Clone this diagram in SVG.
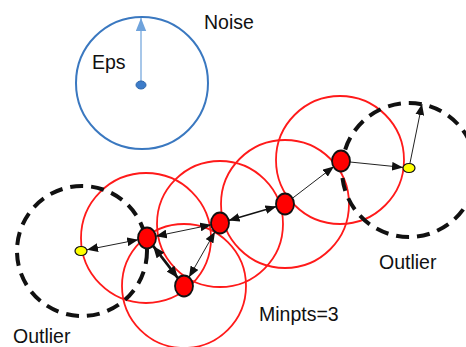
<svg xmlns="http://www.w3.org/2000/svg" width="466" height="347" viewBox="0 0 466 347">
<style>
.lbl{font-family:"Liberation Sans",Arial,sans-serif;font-size:19.5px;fill:#111}
.rc{fill:none;stroke:#ff1a1a;stroke-width:1.8}
.dc{fill:none;stroke:#111;stroke-width:4;stroke-dasharray:13 8}
.core{fill:#ff0000;stroke:#111;stroke-width:1.8}
.out{fill:#ffff00;stroke:#111;stroke-width:1.2}
.ln{stroke:#222;stroke-width:1;fill:none}
.lnb{stroke:#111;stroke-width:2.6;fill:none}
</style>
<defs>
<marker id="ah" viewBox="0 0 10 8" refX="10" refY="4" markerWidth="11" markerHeight="9" markerUnits="userSpaceOnUse" orient="auto-start-reverse">
<path d="M0,0 L10,4 L0,8 Z" fill="#111"/>
</marker>
<marker id="ahb" viewBox="0 0 10 8" refX="10" refY="4" markerWidth="12" markerHeight="10" markerUnits="userSpaceOnUse" orient="auto-start-reverse">
<path d="M0,0 L10,4 L0,8 Z" fill="#111"/>
</marker>
<marker id="ahblue" viewBox="0 0 10 8" refX="10" refY="4" markerWidth="13" markerHeight="11" markerUnits="userSpaceOnUse" orient="auto">
<path d="M0,0 L10,4 L0,8 Z" fill="#6fa3dc"/>
</marker>
</defs>
<g id="eps-circle">
<circle cx="142" cy="83" r="66" fill="none" stroke="#3a78c0" stroke-width="2"/>
<line x1="141" y1="82" x2="141" y2="18" stroke="#8ab4e2" stroke-width="1.5" marker-end="url(#ahblue)"/>
<ellipse cx="141" cy="85" rx="5" ry="4" fill="#3d7cc9" stroke="#2d66aa" stroke-width="1"/>
<text class="lbl" x="92" y="69">Eps</text>
</g>
<text id="noise-label" class="lbl" x="204" y="29">Noise</text>
<g id="neighborhoods">
<circle class="rc" cx="146" cy="238" r="65"/>
<circle class="rc" cx="184" cy="286" r="62"/>
<circle class="rc" cx="220" cy="224" r="63"/>
<circle class="rc" cx="285" cy="204" r="64"/>
<circle class="rc" cx="340" cy="160" r="64"/>
</g>
<g id="outlier-left">
<circle class="dc" cx="82" cy="251" r="65"/>
</g>
<g id="outlier-right">
<circle class="dc" cx="409" cy="170" r="67"/>
</g>
<g id="connectors">
<line class="ln" x1="87" y1="249.8" x2="138.2" y2="239.7" marker-start="url(#ah)" marker-end="url(#ah)"/>
<line class="ln" x1="155.8" y1="236.2" x2="211.2" y2="224.8" marker-start="url(#ah)" marker-end="url(#ah)"/>
<line class="lnb" x1="153.1" y1="245.9" x2="177.9" y2="278.1" marker-start="url(#ahb)" marker-end="url(#ahb)"/>
<line class="ln" x1="189" y1="277.3" x2="215" y2="231.7" marker-start="url(#ah)" marker-end="url(#ah)"/>
<line class="lnb" style="stroke-width:1.6" x1="228.6" y1="220.5" x2="276.4" y2="206.5" marker-start="url(#ah)" marker-end="url(#ah)"/>
<line class="ln" x1="292.1" y1="198.5" x2="333.9" y2="166.5" marker-end="url(#ah)"/>
<line class="ln" x1="350" y1="162" x2="403" y2="167.4" marker-end="url(#ah)"/>
<line class="ln" x1="410" y1="163" x2="422" y2="104" marker-end="url(#ah)"/>
</g>
<g id="p1"><ellipse class="core" cx="147" cy="238" rx="9" ry="10.5"/></g>
<g id="p2"><ellipse class="core" cx="184" cy="286" rx="9" ry="10.5"/></g>
<g id="p3"><ellipse class="core" cx="220" cy="223" rx="9" ry="10.5"/></g>
<g id="p4"><ellipse class="core" cx="285" cy="204" rx="9" ry="10.5"/></g>
<g id="p5"><ellipse class="core" cx="341" cy="161" rx="9" ry="10.5"/></g>
<g id="y1"><ellipse class="out" cx="81" cy="251" rx="6" ry="4.5"/></g>
<g id="y2"><ellipse class="out" cx="409" cy="168" rx="6" ry="4.5"/></g>
<text class="lbl" x="13" y="343">Outlier</text>
<text class="lbl" x="379" y="269">Outlier</text>
<text class="lbl" x="259" y="321">Minpts=3</text>
</svg>
